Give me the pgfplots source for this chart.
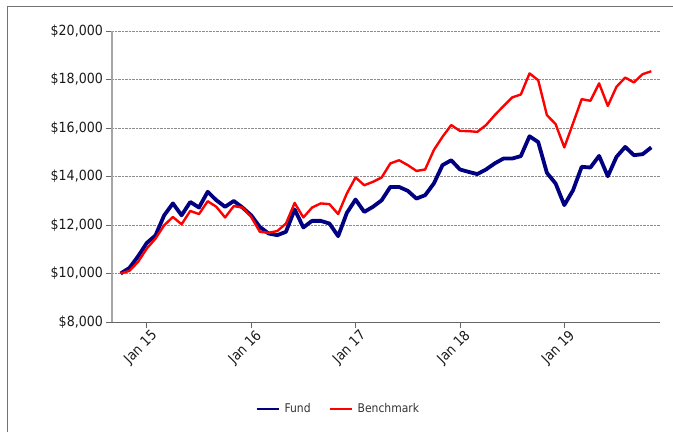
\documentclass[border=0pt]{standalone}
\usepackage{fontspec}
\setmainfont{DejaVu Sans Condensed}
\usepackage{pgfplots}
\pgfplotsset{compat=1.18}
\definecolor{fundblue}{HTML}{000080}
\definecolor{benchred}{HTML}{FF0000}
\begin{document}
\begin{tikzpicture}[x=1pt,y=1pt]
\useasboundingbox (0,0) rectangle (673,432);
\draw[black!55, line width=1pt] (7,0) -- (7,425) -- (673,425);
\begin{axis}[
  at={(112pt,110pt)}, anchor=south west,
  scale only axis, width=548pt, height=291pt,
  xmin=-4, xmax=59, ymin=8000, ymax=20000,
  scaled y ticks=false,
  axis lines*=left,
  x axis line style={draw=black!60, line width=0.8pt},
  y axis line style={draw=black!35, line width=1.6pt},
  xtick={0,12,24,36,48},
  xticklabels={Jan 15,Jan 16,Jan 17,Jan 18,Jan 19},
  ytick={8000,10000,12000,14000,16000,18000,20000},
  yticklabels={{\$8,000},{\$10,000},{\$12,000},{\$14,000},{\$16,000},{\$18,000},{\$20,000}},
  tick align=outside,
  major tick length=6pt,
  tick style={draw=black!60, line width=0.8pt},
  ymajorgrids,
  grid style={densely dotted, black!45, line width=0.6pt},
  ticklabel style={font=\fontsize{14}{16}\selectfont, text=black!90},
  xticklabel style={rotate=45, anchor=north east, inner sep=2pt, xshift=4pt, yshift=-1pt},
  yticklabel style={inner sep=3pt},
  legend style={at={(0.413,-0.299)}, anchor=center, draw=none, fill=none,
    legend columns=2, font=\fontsize{12}{14}\selectfont, text=black!80,
    /tikz/every odd column/.append style={column sep=3pt},
    /tikz/every even column/.append style={column sep=16pt}},
  legend image code/.code={\draw[#1, line width=2pt] (0pt,0pt) -- (22pt,0pt);},
  clip=false,
]
\addplot[fundblue, line width=3.8pt, line join=round] coordinates {
(-3,10000) (-2,10230) (-1,10710) (0,11260) (1,11570) (2,12400) (3,12890) (4,12400)
(5,12950) (6,12720) (7,13370) (8,13020) (9,12750) (10,12990) (11,12720) (12,12400)
(13,11920) (14,11650) (15,11580) (16,11720) (17,12640) (18,11900) (19,12170) (20,12170)
(21,12060) (22,11540) (23,12500) (24,13050) (25,12540) (26,12750) (27,13020) (28,13570)
(29,13570) (30,13410) (31,13090) (32,13230) (33,13710) (34,14470) (35,14670) (36,14290)
(37,14190) (38,14100) (39,14290) (40,14540) (41,14740) (42,14740) (43,14840) (44,15660)
(45,15420) (46,14150) (47,13710) (48,12820) (49,13430) (50,14400) (51,14370) (52,14850)
(53,14010) (54,14810) (55,15220) (56,14880) (57,14920) (58,15200)
};
\addlegendentry{Fund}
\addplot[benchred, line width=2.4pt, line join=round] coordinates {
(-3,10000) (-2,10110) (-1,10480) (0,11030) (1,11440) (2,11990) (3,12330) (4,12030)
(5,12580) (6,12450) (7,12980) (8,12750) (9,12310) (10,12780) (11,12720) (12,12330)
(13,11720) (14,11680) (15,11750) (16,12060) (17,12910) (18,12310) (19,12720) (20,12890)
(21,12860) (22,12450) (23,13300) (24,13960) (25,13640) (26,13780) (27,13960) (28,14540)
(29,14670) (30,14470) (31,14230) (32,14290) (33,15090) (34,15640) (35,16120) (36,15880)
(37,15870) (38,15840) (39,16120) (40,16530) (41,16900) (42,17260) (43,17380) (44,18250)
(45,17970) (46,16530) (47,16160) (48,15200) (49,16190) (50,17190) (51,17120) (52,17840)
(53,16910) (54,17700) (55,18080) (56,17880) (57,18220) (58,18340)
};
\addlegendentry{Benchmark}
\end{axis}
\end{tikzpicture}
\end{document}
